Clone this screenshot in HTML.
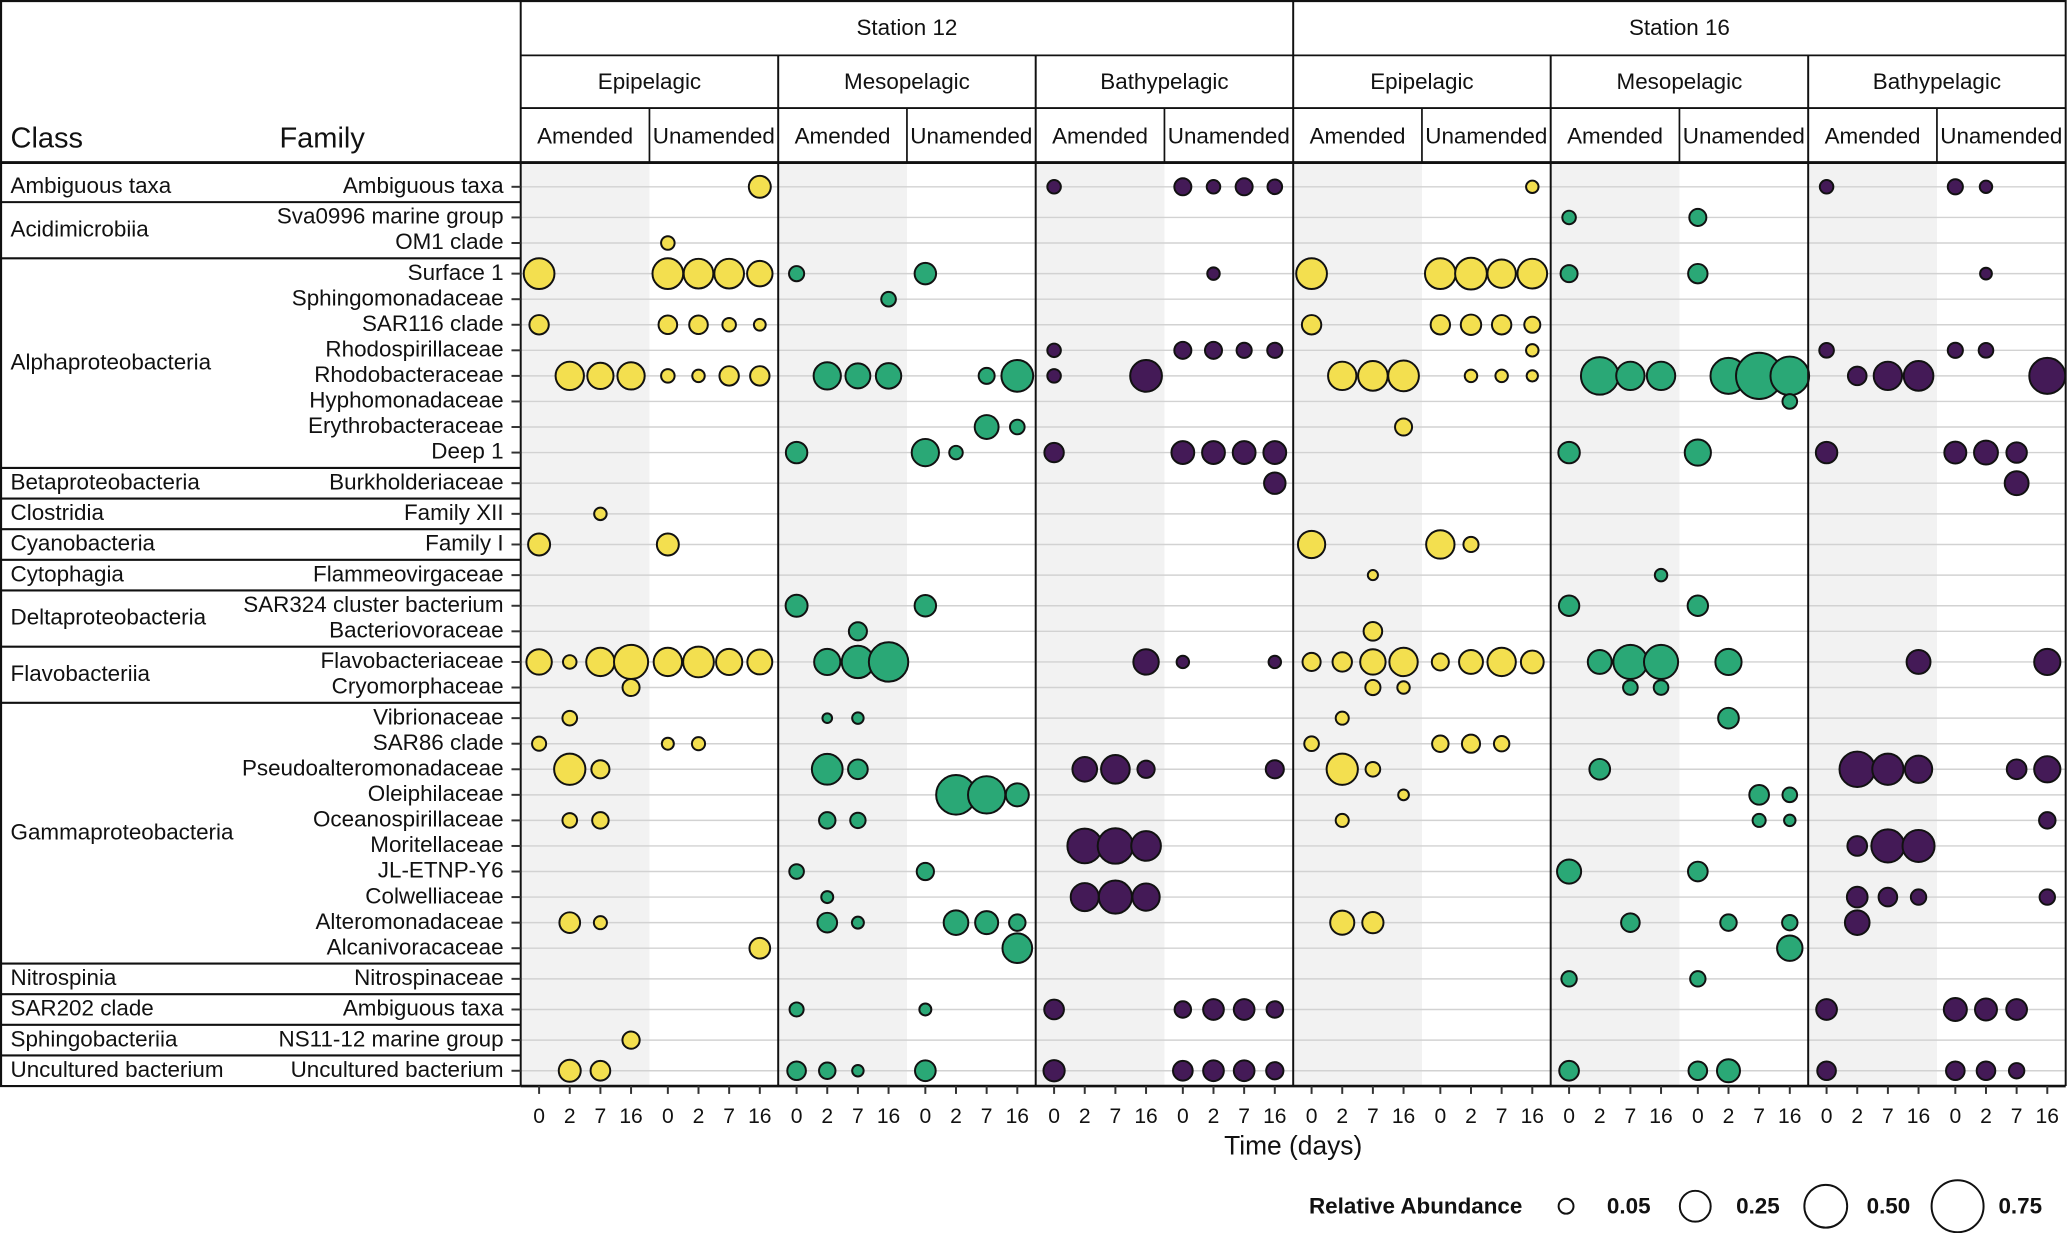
<!DOCTYPE html>
<html><head><meta charset="utf-8"><style>
html,body{margin:0;padding:0;background:#fff;}
svg{display:block;font-family:"Liberation Sans",Arial,sans-serif;}
</style></head><body>
<svg id="chart" width="2067" height="1233" viewBox="0 0 1568 935.3" preserveAspectRatio="none" xmlns="http://www.w3.org/2000/svg"></svg>
<script>
// ---- data ----
const families = ["Ambiguous taxa","Sva0996 marine group","OM1 clade","Surface 1","Sphingomonadaceae","SAR116 clade","Rhodospirillaceae","Rhodobacteraceae","Hyphomonadaceae","Erythrobacteraceae","Deep 1","Burkholderiaceae","Family XII","Family I","Flammeovirgaceae","SAR324 cluster bacterium","Bacteriovoraceae","Flavobacteriaceae","Cryomorphaceae","Vibrionaceae","SAR86 clade","Pseudoalteromonadaceae","Oleiphilaceae","Oceanospirillaceae","Moritellaceae","JL-ETNP-Y6","Colwelliaceae","Alteromonadaceae","Alcanivoracaceae","Nitrospinaceae","Ambiguous taxa","NS11-12 marine group","Uncultured bacterium"];
const classNames = ["Ambiguous taxa","Acidimicrobiia","Alphaproteobacteria","Betaproteobacteria","Clostridia","Cyanobacteria","Cytophagia","Deltaproteobacteria","Flavobacteriia","Gammaproteobacteria","Nitrospinia","SAR202 clade","Sphingobacteriia","Uncultured bacterium"];
const classSizes = [1,2,8,1,1,1,1,2,2,10,1,1,1,1];
const stations = ["Station 12","Station 16"];
const depths = ["Epipelagic","Mesopelagic","Bathypelagic"];
const treatments = ["Amended","Unamended"];
const timeLabels = ["0","2","7","16"];
const legendValues = [0.05,0.25,0.50,0.75];
const legendLabels = ["0.05","0.25","0.50","0.75"];
// each entry: [familyIndex, treatment(0=Amended,1=Unamended), timeIndex, relativeAbundance]
const s12Epi = [[0,1,3,.12],[2,1,0,.04],[3,0,0,.248],[3,1,0,.248],[3,1,1,.23],[3,1,2,.23],[3,1,3,.165],
[5,0,0,.091],[5,1,0,.083],[5,1,1,.083],[5,1,2,.04],[5,1,3,.029],
[7,0,1,.209],[7,0,2,.176],[7,0,3,.192],[7,1,0,.04],[7,1,1,.033],[7,1,2,.091],[7,1,3,.091],
[12,0,2,.033],[13,0,0,.12],[13,1,0,.12],
[17,0,0,.165],[17,0,1,.04],[17,0,2,.209],[17,0,3,.31],[17,1,0,.209],[17,1,1,.248],[17,1,2,.176],[17,1,3,.158],
[18,0,3,.068],[19,0,1,.048],[20,0,0,.044],[20,1,0,.03],[20,1,1,.037],[21,0,1,.257],[21,0,2,.078],
[23,0,1,.048],[23,0,2,.063],[27,0,1,.105],[27,0,2,.037],[28,1,3,.105],[31,0,3,.07],[32,0,1,.12],[32,0,2,.094]];
const s12Meso = [[3,0,0,.052],[3,1,0,.114],[4,0,3,.048],
[7,0,1,.192],[7,0,2,.158],[7,0,3,.165],[7,1,2,.059],[7,1,3,.266],
[9,1,2,.144],[9,1,3,.048],[10,0,0,.114],[10,1,0,.192],[10,1,1,.04],
[15,0,0,.12],[15,1,0,.114],[16,0,2,.078],[17,0,1,.176],[17,0,2,.276],[17,0,3,.42],
[19,0,1,.0175],[19,0,2,.027],[21,0,1,.248],[21,0,2,.094],
[22,1,1,.426],[22,1,2,.374],[22,1,3,.133],[23,0,1,.063],[23,0,2,.054],
[25,0,0,.048],[25,1,0,.07],[26,0,1,.03],
[27,0,1,.094],[27,0,2,.03],[27,1,1,.154],[27,1,2,.133],[27,1,3,.063],[28,1,3,.23],
[30,0,0,.044],[30,1,0,.03],[32,0,0,.083],[32,0,1,.063],[32,0,2,.027],[32,1,0,.105]];
const s12Bathy = [[0,0,0,.04],[0,1,0,.068],[0,1,1,.04],[0,1,2,.068],[0,1,3,.048],[3,1,1,.033],
[6,0,0,.04],[6,1,0,.068],[6,1,1,.068],[6,1,2,.052],[6,1,3,.052],[7,0,0,.04],[7,0,3,.266],
[10,0,0,.091],[10,1,0,.13],[10,1,1,.13],[10,1,2,.13],[10,1,3,.13],[11,1,3,.114],
[17,0,3,.165],[17,1,0,.033],[17,1,3,.033],
[21,0,1,.154],[21,0,2,.213],[21,0,3,.07],[21,1,3,.078],
[24,0,1,.321],[24,0,2,.336],[24,0,3,.23],[26,0,1,.204],[26,0,2,.29],[26,0,3,.192],
[30,0,0,.094],[30,1,0,.063],[30,1,1,.105],[30,1,2,.105],[30,1,3,.063],
[32,0,0,.111],[32,1,0,.094],[32,1,1,.105],[32,1,2,.105],[32,1,3,.07]];
const s16Epi = [[0,1,3,.033],[3,0,0,.248],[3,1,0,.248],[3,1,1,.266],[3,1,2,.209],[3,1,3,.23],
[5,0,0,.091],[5,1,0,.091],[5,1,1,.102],[5,1,2,.091],[5,1,3,.059],[6,1,3,.033],
[7,0,1,.209],[7,0,2,.23],[7,0,3,.248],[7,1,1,.033],[7,1,2,.033],[7,1,3,.026],
[9,0,3,.068],[13,0,0,.192],[13,1,0,.209],[13,1,1,.052],[14,0,2,.02],[16,0,2,.083],
[17,0,0,.078],[17,0,1,.091],[17,0,2,.165],[17,0,3,.209],[17,1,0,.068],[17,1,1,.144],[17,1,2,.209],[17,1,3,.13],
[18,0,2,.052],[18,0,3,.033],[19,0,1,.037],[20,0,0,.048],[20,1,0,.063],[20,1,1,.078],[20,1,2,.054],
[21,0,1,.257],[21,0,2,.048],[22,0,3,.023],[23,0,1,.037],[27,0,1,.147],[27,0,2,.111]];
const s16Meso = [[1,0,0,.04],[1,1,0,.068],[3,0,0,.068],[3,1,0,.091],
[7,0,1,.38],[7,0,2,.209],[7,0,3,.209],[7,1,1,.347],[7,1,2,.588],[7,1,3,.403],[8,1,3,.048],
[10,0,0,.114],[10,1,0,.176],[14,0,3,.033],[15,0,0,.102],[15,1,0,.102],
[17,0,1,.144],[17,0,2,.31],[17,0,3,.31],[17,1,1,.176],[18,0,2,.048],[18,0,3,.048],
[19,1,1,.105],[21,0,1,.105],[22,1,2,.094],[22,1,3,.048],[23,1,2,.037],[23,1,3,.027],
[25,0,0,.147],[25,1,0,.094],[27,0,2,.083],[27,1,1,.063],[27,1,3,.054],[28,1,3,.165],
[29,0,0,.054],[29,1,0,.054],[32,0,0,.094],[32,1,0,.083],[32,1,1,.133]];
const s16Bathy = [[0,0,0,.04],[0,1,0,.052],[0,1,1,.033],[3,1,1,.029],
[6,0,0,.048],[6,1,0,.052],[6,1,1,.048],[7,0,1,.083],[7,0,2,.209],[7,0,3,.23],[7,1,3,.347],
[10,0,0,.114],[10,1,0,.12],[10,1,1,.144],[10,1,2,.102],[11,1,2,.144],
[17,0,3,.144],[17,1,3,.176],[21,0,1,.336],[21,0,2,.257],[21,0,3,.192],[21,1,2,.094],[21,1,3,.176],
[23,1,3,.063],[24,0,1,.094],[24,0,2,.29],[24,0,3,.271],
[26,0,1,.105],[26,0,2,.083],[26,0,3,.054],[26,1,3,.054],[27,0,1,.154],
[30,0,0,.105],[30,1,0,.133],[30,1,1,.12],[30,1,2,.105],
[32,0,0,.083],[32,1,0,.083],[32,1,1,.083],[32,1,2,.054]];
const panelData = [s12Epi,s12Meso,s12Bathy,s16Epi,s16Meso,s16Bathy];
const depthColors = ["#f3df4f","#2aa876","#441a57"];

// ---- layout ----
const NS="http://www.w3.org/2000/svg";
const svg=document.getElementById('chart');
const PL=395, PR=1567, PT=123.3, PB=823.8, H0=42, H1=82;
const panelW=(PR-PL)/6, halfW=panelW/2;
const classOf=[]; classSizes.forEach((n,c)=>{for(let k=0;k<n;k++)classOf.push(c);});
function yPos(i){return 141.7+i*19.39+classOf[i]*3.85;}
function xPos(p,trt,t){return PL+p*panelW+trt*halfW+(0.6+t)*halfW/4.2;}
function rScale(v){return 21.9*Math.sqrt(v)+1.5;}
function mk(tag,attrs,parent){const e=document.createElementNS(NS,tag);for(const k in attrs)e.setAttribute(k,attrs[k]);(parent||svg).appendChild(e);return e;}
function txt(s,x,y,size,anchor,parent,weight){const t=mk('text',{x:x,y:y,'font-size':size,'text-anchor':anchor||'start','fill':'#111','dominant-baseline':'central'},parent);if(weight)t.setAttribute('font-weight',weight);t.textContent=s;return t;}

for(let p=0;p<6;p++){
  const r=mk('rect',{x:PL+p*panelW,y:PT,width:halfW,height:PB-PT,fill:'#f2f2f2'});
  
  
}
families.forEach((f,i)=>{
  const l=mk('line',{x1:PL,x2:PR,y1:yPos(i),y2:yPos(i),stroke:'#d2d2d2','stroke-width':1.1});
  
  
});
panelData.forEach((arr,p)=>{
  const g=mk('g',{});
  
  
  arr.forEach(d=>{
    const c=mk('circle',{cx:xPos(p,d[1],d[2]),cy:yPos(d[0]),r:rScale(d[3])-0.75,fill:depthColors[p%3],stroke:'#111','stroke-width':1.5},g);
    
    
  });
});
for(let p=0;p<=6;p++){
  const x=PL+p*panelW;
  const l=mk('line',{x1:x,x2:x,y1:(p%3===0)?0:H0,y2:PB,stroke:'#111','stroke-width':1.5});
  
  
}
for(let p=0;p<6;p++){
  const x=PL+p*panelW+halfW;
  const l=mk('line',{x1:x,x2:x,y1:H1,y2:PT,stroke:'#111','stroke-width':1.3});
  
  
}
[[0,0.8,PR+0.5,1.6],[PL,H0,PR,1.4],[PL,H1,PR,1.4],[0,PT,PR,2.2],[PL,PB,PR,2]].forEach(a=>{
  const l=mk('line',{x1:a[0],x2:a[2],y1:a[1],y2:a[1],stroke:'#111','stroke-width':a[3]});
  
  
});
const lb=mk('line',{x1:0.8,x2:0.8,y1:0,y2:PB,stroke:'#111','stroke-width':1.6});


stations.forEach((s,i)=>{
  const t=txt(s,PL+(i*3+1.5)*panelW,21,17,'middle');
  
  
});
for(let p=0;p<6;p++){
  const t=txt(depths[p%3],PL+(p+0.5)*panelW,62,17,'middle');
  
  
  treatments.forEach((tr,k)=>{
    const u=txt(tr,PL+p*panelW+(k+0.5)*halfW,103,17,'middle');
    
    
  });
}
const hc=txt('Class',8,105,22,'start');


const hf=txt('Family',212,105,22,'start');


families.forEach((f,i)=>{
  const t=txt(f,382,yPos(i)-1,17,'end');
  
  
  const k=mk('line',{x1:388,x2:395,y1:yPos(i),y2:yPos(i),stroke:'#333','stroke-width':1.5});
  
  
});
let start=0;
classSizes.forEach((n,c)=>{
  const a=yPos(start), b=yPos(start+n-1);
  const t=txt(classNames[c],8,(a+b)/2-1,17,'start');
  
  
  if(start+n<families.length){
    const sy=(b+yPos(start+n))/2;
    const l=mk('line',{x1:0,x2:PL,y1:sy,y2:sy,stroke:'#111','stroke-width':1.6});
    
    
  }
  start+=n;
});
const bl=mk('line',{x1:0,x2:PL,y1:PB,y2:PB,stroke:'#111','stroke-width':1.6});


for(let p=0;p<6;p++)for(let k=0;k<2;k++)timeLabels.forEach((tl,t)=>{
  const x=xPos(p,k,t);
  const l=mk('line',{x1:x,x2:x,y1:PB,y2:PB+6,stroke:'#333','stroke-width':1.5});
  
  
  const s=txt(tl,x,847,16,'middle');
  
  
});
const xt=txt('Time (days)',981,869,20,'middle');


const lt=txt('Relative Abundance',993,915,17,'start',null,'bold');


const legX=[1188,1286,1385,1485];
legendValues.forEach((v,i)=>{
  const c=mk('circle',{cx:legX[i],cy:915,r:rScale(v)-0.75,fill:'#fff',stroke:'#111','stroke-width':1.5});
  
  
  const t=txt(legendLabels[i],legX[i]+31,915,17,'start',null,'bold');
  
  
});
</script>
</body></html>
